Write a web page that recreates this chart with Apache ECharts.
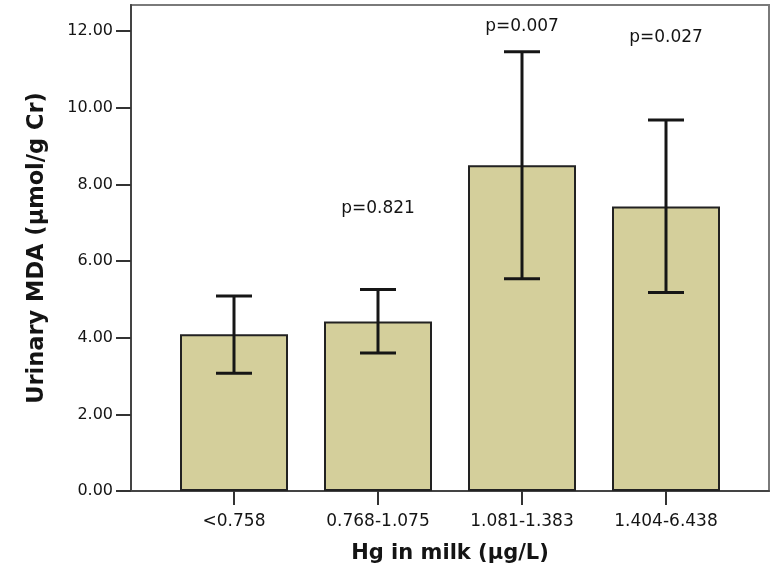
<!DOCTYPE html>
<html>
<head>
<meta charset="utf-8">
<title>Urinary MDA by Hg in milk</title>
<script src="https://cdn.jsdelivr.net/npm/echarts@6/dist/echarts.min.js"></script>
<style>
  html, body { margin: 0; padding: 0; background: #fff; }
  #chart { width: 775px; height: 570px; }
</style>
</head>
<body>
<div id="chart"></div>
<script>
// data
const categories = ['<0.758', '0.768-1.075', '1.081-1.383', '1.404-6.438'];
const meanMDA = [4.09, 4.42, 8.50, 7.42];
const ciLower = [3.07, 3.60, 5.54, 5.18];
const ciUpper = [5.09, 5.26, 11.46, 9.68];
const pValues = ['', 'p=0.821', 'p=0.007', 'p=0.027'];
const yTicks = [0, 2, 4, 6, 8, 10, 12];

const chart = echarts.init(document.getElementById('chart'));

const textColor = '#141414';
const yMax = 12.68;

// error bars: vertical line with two caps
function renderErrorBar(params, api) {
  const idx = api.value(0);
  const top = api.coord([idx, api.value(2)]);
  const bot = api.coord([idx, api.value(1)]);
  const half = 18;
  const style = { stroke: '#161616', lineWidth: 3 };
  return {
    type: 'group',
    children: [
      { type: 'line', shape: { x1: top[0], y1: top[1], x2: bot[0], y2: bot[1] }, style: style },
      { type: 'line', shape: { x1: top[0] - half, y1: top[1], x2: top[0] + half, y2: top[1] }, style: style },
      { type: 'line', shape: { x1: bot[0] - half, y1: bot[1], x2: bot[0] + half, y2: bot[1] }, style: style }
    ]
  };
}

// where the p texts sit, in data units
const pLabelAt = [0, 7.38, 12.12, 11.84];

const option = {
  backgroundColor: '#fff',
  animation: false,
  textStyle: { fontFamily: 'DejaVu Sans' },
  grid: [
    { left: 131, right: 6, top: 5, bottom: 79, show: true, borderColor: '#7a7a7a', borderWidth: 2 },
    { left: 162, right: 37, top: 5, bottom: 79 }
  ],
  xAxis: [
    {
      gridIndex: 0, type: 'value', min: 0, max: 1,
      axisLine: { show: true, lineStyle: { color: '#444', width: 2 } },
      axisTick: { show: false }, axisLabel: { show: false }, splitLine: { show: false }
    },
    {
      gridIndex: 1, type: 'category', data: categories,
      axisLine: { show: false },
      axisTick: { show: true, alignWithLabel: true, length: 14, lineStyle: { color: '#333', width: 2 } },
      axisLabel: { color: textColor, fontSize: 17, margin: 22, fontFamily: 'DejaVu Sans' },
      name: 'Hg in milk (μg/L)',
      nameLocation: 'middle',
      nameGap: 52,
      nameTextStyle: { color: textColor, fontSize: 21, fontWeight: 'bold', fontFamily: 'DejaVu Sans' }
    }
  ],
  yAxis: [
    {
      gridIndex: 0, type: 'value', min: 0, max: yMax,
      axisLine: { show: true, lineStyle: { color: '#444', width: 2 } },
      axisTick: { show: true, length: 15, customValues: yTicks, lineStyle: { color: '#333', width: 2 } },
      axisLabel: {
        color: textColor, fontSize: 16, margin: 18, customValues: yTicks,
        formatter: function (v) { return v.toFixed(2); }
      },
      splitLine: { show: false },
      name: 'Urinary MDA (μmol/g Cr)',
      nameLocation: 'middle',
      nameGap: 82,
      nameTextStyle: { color: textColor, fontSize: 22.5, fontWeight: 'bold', fontFamily: 'DejaVu Sans' }
    },
    { gridIndex: 1, type: 'value', min: 0, max: yMax, show: false }
  ],
  series: [
    {
      type: 'bar',
      xAxisIndex: 1, yAxisIndex: 1,
      data: meanMDA,
      barWidth: 108,
      itemStyle: { color: '#d4cf9b', borderColor: '#222', borderWidth: 2 }
    },
    {
      type: 'custom',
      xAxisIndex: 1, yAxisIndex: 1,
      renderItem: renderErrorBar,
      data: categories.map(function (c, i) { return [i, ciLower[i], ciUpper[i]]; }),
      z: 5
    },
    {
      type: 'scatter',
      xAxisIndex: 1, yAxisIndex: 1,
      symbolSize: 1,
      itemStyle: { color: '#fff', opacity: 0 },
      data: pValues.map(function (p, i) { return [i, pLabelAt[i], p]; }).filter(function (d) { return d[2]; }),
      label: {
        show: true, position: 'inside', color: textColor, opacity: 1, fontSize: 17,
        textBorderWidth: 0,
        formatter: function (p) { return p.value[2]; }
      },
      emphasis: { disabled: true },
      z: 6
    }
  ]
};

chart.setOption(option);
</script>
</body>
</html>
